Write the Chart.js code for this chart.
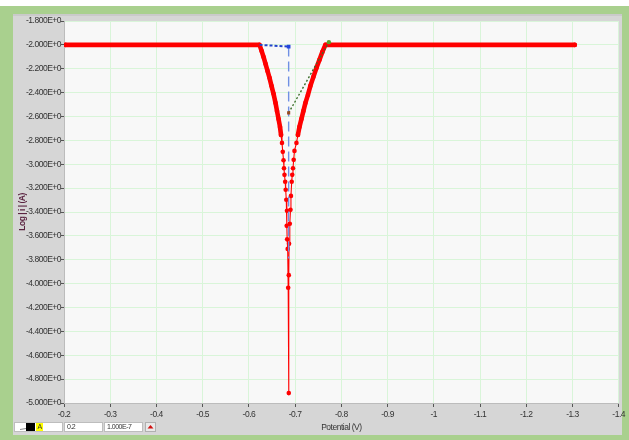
<!DOCTYPE html>
<html>
<head>
<meta charset="utf-8">
<script src="https://cdn.jsdelivr.net/npm/chart.js@4.4.1/dist/chart.umd.min.js"></script>
<style>
  html, body { margin: 0; padding: 0; background: #a9d08e; }
  #wrap { width: 629px; height: 440px; position: relative; }
  canvas { display: block; }
</style>
</head>
<body>
<div id="wrap"><canvas id="c" width="629" height="440"></canvas></div>
<script>
// ---- data ----
// Series "A": potential (V) and log|i| (A)
const potentialA = [
  -0.203, -0.623,
  -0.6274, -0.6317, -0.6360, -0.6403, -0.6446, -0.6489, -0.6533, -0.6576, -0.6608, -0.6641, -0.6673, -0.6695, -0.6716,
  -0.6733, -0.6749, -0.6759, -0.6770, -0.6785, -0.6796, -0.6809, -0.6824, -0.6818, -0.6828, -0.6839,
  -0.6850, -0.6863, -0.6863,
  -0.6869, -0.6885, -0.6900, -0.6910, -0.6926, -0.6938, -0.6954, -0.6969, -0.6986,
  -0.7029, -0.7061, -0.7094, -0.7137, -0.7180, -0.7223, -0.7277, -0.7331, -0.7396, -0.7461, -0.7526, -0.7590, -0.7655,
  -1.305
];
const logIA = [
  -2.000, -2.000,
  -2.050, -2.101, -2.159, -2.218, -2.276, -2.343, -2.410, -2.486, -2.553, -2.620, -2.687, -2.754, -2.821,
  -2.896, -2.967, -3.033, -3.089, -3.147, -3.214, -3.298, -3.390, -3.516, -3.629, -3.709,
  -4.035, -4.917, -3.929,
  -3.667, -3.499, -3.382, -3.265, -3.147, -3.089, -3.033, -2.963, -2.888,
  -2.821, -2.754, -2.687, -2.620, -2.553, -2.486, -2.419, -2.343, -2.268, -2.193, -2.126, -2.059, -2.000,
  -2.000
];
// Fit / marker lines
const anodicFitPotential = [-0.623, -0.686];
const anodicFitLogI = [-2.000, -2.014];
const ecorrLinePotential = [-0.686, -0.686];
const ecorrLineLogI = [-2.014, -3.79];
const cathodicFitPotential = [-0.686, -0.773];
const cathodicFitLogI = [-2.570, -1.977];

// Axis ticks
const xTickValues = [-0.2, -0.3, -0.4, -0.5, -0.6, -0.7, -0.8, -0.9, -1.0, -1.1, -1.2, -1.3, -1.4];
const xTickLabels = ['-0.2', '-0.3', '-0.4', '-0.5', '-0.6', '-0.7', '-0.8', '-0.9', '-1', '-1.1', '-1.2', '-1.3', '-1.4'];
const yTickValues = [-1.8, -2.0, -2.2, -2.4, -2.6, -2.8, -3.0, -3.2, -3.4, -3.6, -3.8, -4.0, -4.2, -4.4, -4.6, -4.8, -5.0];
const yTickLabels = ['-1.800E+0', '-2.000E+0', '-2.200E+0', '-2.400E+0', '-2.600E+0', '-2.800E+0', '-3.000E+0',
  '-3.200E+0', '-3.400E+0', '-3.600E+0', '-3.800E+0', '-4.000E+0', '-4.200E+0', '-4.400E+0', '-4.600E+0',
  '-4.800E+0', '-5.000E+0'];
const xTitle = 'Potential (V)';
const yTitle = 'Log | i | (A)';
const legendCells = ['A', '0.2', '1.000E-7'];

// ---- helpers ----
const pts = (xs, ys) => xs.map((x, i) => ({ x: x, y: ys[i] }));
const FONT = "'Liberation Sans', Arial, sans-serif";

const framePlugin = {
  id: 'frame',
  beforeDraw(chart) {
    const ctx = chart.ctx;
    const a = chart.chartArea;
    ctx.letterSpacing = '-0.5px';
    ctx.save();
    ctx.fillStyle = '#a9d08e';
    ctx.fillRect(0, 0, chart.width, chart.height);
    ctx.fillStyle = '#ffffff';
    ctx.fillRect(0, 0, chart.width, 6);
    ctx.fillStyle = '#d6d6d6';
    ctx.fillRect(13, 14, 609, 421);
    ctx.fillStyle = '#cacaca';
    ctx.fillRect(13, 14, 609, 2);
    ctx.fillStyle = '#f8f8f8';
    ctx.fillRect(a.left, a.top, a.right - a.left, a.bottom - a.top);
    ctx.restore();
  },
  afterDraw(chart) {
    const ctx = chart.ctx;
    ctx.save();
    const top = 422, h = 10;
    // legend row
    ctx.fillStyle = '#ffffff';
    ctx.fillRect(14, top, 49, h);
    ctx.fillRect(64, top, 39, h);
    ctx.fillRect(104, top, 39, h);
    ctx.strokeStyle = '#bdbdbd';
    ctx.lineWidth = 1;
    ctx.strokeRect(14.5, top + 0.5, 48, h - 1);
    ctx.strokeRect(64.5, top + 0.5, 38, h - 1);
    ctx.strokeRect(104.5, top + 0.5, 38, h - 1);
    // line icon
    ctx.strokeStyle = '#8a8a8a';
    ctx.beginPath();
    ctx.moveTo(20, 429.5); ctx.lineTo(26, 428.5);
    ctx.stroke();
    // black swatch
    ctx.fillStyle = '#000000';
    ctx.fillRect(26, 423, 9, 8);
    // yellow label
    ctx.fillStyle = '#ffff00';
    ctx.fillRect(36, 423, 7, 8);
    ctx.fillStyle = '#333333';
    ctx.font = "7px " + FONT;
    ctx.textBaseline = 'middle';
    ctx.textAlign = 'left';
    ctx.fillText(legendCells[0], 37.5, 427.5);
    ctx.fillText(legendCells[1], 67, 427.5);
    ctx.fillText(legendCells[2], 107, 427.5);
    // button
    ctx.fillStyle = '#e9e9e9';
    ctx.fillRect(145, top, 11, h);
    ctx.strokeStyle = '#b0b0b0';
    ctx.strokeRect(145.5, top + 0.5, 10, h - 1);
    ctx.fillStyle = '#d01010';
    ctx.beginPath();
    ctx.moveTo(147.5, 428.5); ctx.lineTo(153.5, 428.5); ctx.lineTo(150.5, 425);
    ctx.closePath();
    ctx.fill();
    ctx.restore();
  }
};

new Chart(document.getElementById('c'), {
  type: 'scatter',
  data: {
    datasets: [
      {
        label: 'A',
        data: pts(potentialA, logIA),
        showLine: true,
        order: 10,
        borderColor: '#ff0000',
        backgroundColor: '#ff0000',
        borderWidth: 1,
        borderCapStyle: 'round',
        borderJoinStyle: 'round',
        pointRadius: 2.3,
        pointBorderWidth: 0,
        pointBackgroundColor: '#ff0000',
        segment: {
          borderWidth: c => (c.p0.parsed.y > -2.8 && c.p1.parsed.y > -2.8) ? 4.6 : 1.1
        }
      },
      {
        label: 'anodic',
        data: pts(anodicFitPotential, anodicFitLogI),
        showLine: true,
        order: 1,
        borderColor: '#2244cc',
        borderWidth: 2,
        borderDash: [3, 2],
        pointRadius: [0, 2.6],
        pointStyle: 'rect',
        pointBackgroundColor: '#2244dd',
        pointBorderWidth: 0
      },
      {
        label: 'ecorr',
        data: pts(ecorrLinePotential, ecorrLineLogI),
        showLine: true,
        order: 2,
        borderColor: '#7090e4',
        borderWidth: 1.4,
        borderDash: [10, 5],
        pointRadius: 0
      },
      {
        label: 'cathodic',
        data: pts(cathodicFitPotential, cathodicFitLogI),
        showLine: true,
        order: 1,
        borderColor: '#3c6e2c',
        borderWidth: 1.4,
        borderDash: [2, 2],
        pointRadius: 2.2,
        pointStyle: ['rect', 'circle'],
        pointBackgroundColor: ['#9a4a20', '#5aa02c'],
        pointBorderWidth: 0
      }
    ]
  },
  options: {
    responsive: false,
    animation: false,
    devicePixelRatio: 1,
    layout: { padding: { left: 0, right: 9, top: 21, bottom: 0 } },
    plugins: { legend: { display: false }, tooltip: { enabled: false } },
    scales: {
      x: {
        type: 'linear',
        reverse: true,
        min: -1.4,
        max: -0.2,
        afterFit: s => { s.height = 37; },
        afterBuildTicks: s => { s.ticks = xTickValues.map(v => ({ value: v })); },
        ticks: {
          autoSkip: false,
          maxRotation: 0,
          padding: 3,
          color: '#333333',
          font: { family: FONT, size: 8.5 },
          callback: (v, i) => xTickLabels[i]
        },
        grid: { color: '#d9f5d9', tickColor: '#555555', tickLength: 4, lineWidth: 1 },
        border: { color: '#bcbcbc' },
        title: {
          display: true,
          text: xTitle,
          color: '#333333',
          font: { family: FONT, size: 8.5 },
          padding: { top: 0, bottom: 7 }
        }
      },
      y: {
        type: 'linear',
        min: -5.0,
        max: -1.8,
        afterFit: s => { s.width = 64; },
        afterBuildTicks: s => { s.ticks = yTickValues.map(v => ({ value: v })); },
        ticks: {
          autoSkip: false,
          padding: 0,
          color: '#333333',
          font: { family: FONT, size: 8.5 },
          callback: (v, i) => yTickLabels[i]
        },
        grid: { color: '#d9f5d9', tickColor: '#555555', tickLength: 3, lineWidth: 1 },
        border: { color: '#bcbcbc' },
        title: {
          display: true,
          text: yTitle,
          color: '#5a2340',
          font: { family: FONT, size: 8.5, weight: 'bold' },
          padding: { top: 17.5, bottom: 0 }
        }
      }
    }
  },
  plugins: [framePlugin]
});
</script>
</body>
</html>
